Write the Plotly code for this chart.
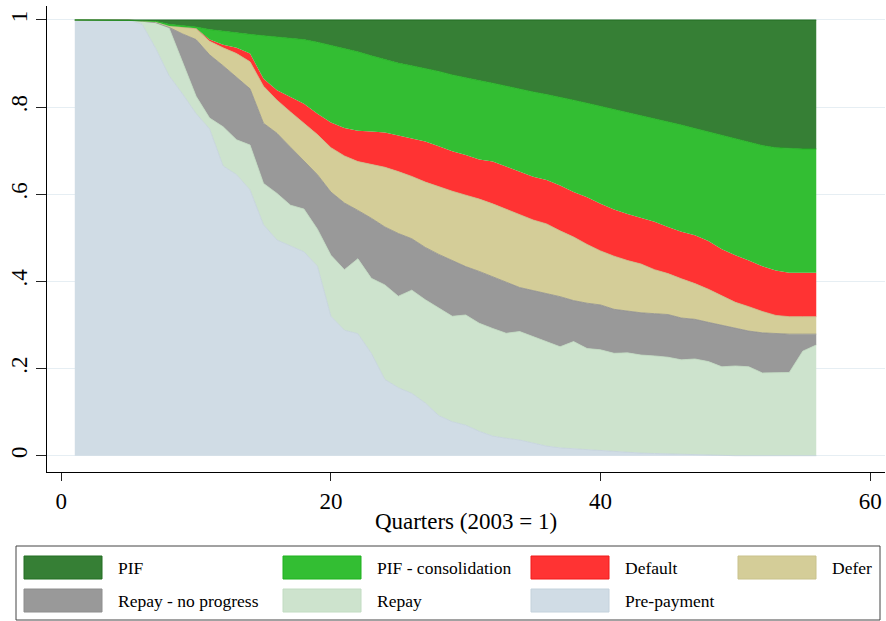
import plotly.graph_objects as go

# ---------------- data (cumulative shares) ----------------
quarters = list(range(1, 57))

prepay_top = [1.0, 1.0, 1.0, 1.0, 1.0, 0.99, 0.935, 0.872, 0.83, 0.785,
              0.75, 0.665, 0.645, 0.61, 0.53, 0.495, 0.482, 0.468, 0.435, 0.32,
              0.288, 0.28, 0.235, 0.175, 0.156, 0.143, 0.121, 0.092, 0.078, 0.07,
              0.056, 0.045, 0.04, 0.036, 0.029, 0.022, 0.018, 0.016, 0.013, 0.011,
              0.009, 0.008, 0.006, 0.005, 0.004, 0.003, 0.002, 0.001, 0.0, 0.0,
              0.0, 0.0, 0.0, 0.0, 0.0, 0.0]

repay_top = [1.0, 1.0, 1.0, 1.0, 1.0, 0.997, 0.994, 0.981, 0.904, 0.825,
             0.775, 0.755, 0.725, 0.713, 0.625, 0.602, 0.575, 0.566, 0.52, 0.46,
             0.427, 0.452, 0.407, 0.392, 0.366, 0.38, 0.358, 0.34, 0.32, 0.323,
             0.304, 0.292, 0.281, 0.285, 0.273, 0.262, 0.25, 0.262, 0.246, 0.243,
             0.235, 0.236, 0.231, 0.229, 0.226, 0.22, 0.222, 0.216, 0.204, 0.206,
             0.204, 0.19, 0.19, 0.191, 0.24, 0.254]

noprog_top = [1.0, 1.0, 1.0, 1.0, 1.0, 0.997, 0.994, 0.983, 0.968, 0.955,
              0.92, 0.895, 0.869, 0.842, 0.763, 0.74, 0.708, 0.677, 0.645, 0.605,
              0.58, 0.563, 0.545, 0.525, 0.51, 0.498, 0.478, 0.462, 0.448, 0.434,
              0.423, 0.411, 0.399, 0.386, 0.379, 0.372, 0.365, 0.356, 0.35, 0.346,
              0.336, 0.332, 0.328, 0.326, 0.324, 0.316, 0.313, 0.306, 0.299, 0.292,
              0.286, 0.282, 0.28, 0.279, 0.279, 0.279]

defer_top = [1.0, 1.0, 1.0, 1.0, 1.0, 0.998, 0.996, 0.986, 0.983, 0.980,
             0.951, 0.936, 0.923, 0.904, 0.848, 0.816, 0.789, 0.763, 0.737, 0.707,
             0.688, 0.675, 0.668, 0.662, 0.652, 0.641, 0.628, 0.617, 0.607, 0.598,
             0.589, 0.578, 0.566, 0.554, 0.541, 0.532, 0.516, 0.502, 0.485, 0.47,
             0.458, 0.448, 0.44, 0.427, 0.418, 0.406, 0.395, 0.382, 0.367, 0.352,
             0.342, 0.331, 0.322, 0.319, 0.319, 0.319]

default_top = [1.0, 1.0, 1.0, 1.0, 1.0, 0.998, 0.996, 0.986, 0.983, 0.981,
               0.955, 0.943, 0.936, 0.923, 0.865, 0.839, 0.823, 0.808, 0.785, 0.765,
               0.752, 0.746, 0.744, 0.742, 0.735, 0.728, 0.721, 0.71, 0.699, 0.69,
               0.68, 0.675, 0.663, 0.652, 0.64, 0.633, 0.62, 0.605, 0.593, 0.578,
               0.565, 0.555, 0.546, 0.537, 0.525, 0.514, 0.506, 0.493, 0.474, 0.46,
               0.448, 0.435, 0.425, 0.42, 0.42, 0.42]

pifcons_top = [1.0, 1.0, 1.0, 0.999, 0.999, 0.998, 0.997, 0.99, 0.987, 0.984,
               0.978, 0.974, 0.97, 0.967, 0.964, 0.961, 0.958, 0.955, 0.949, 0.942,
               0.934, 0.927, 0.918, 0.91, 0.901, 0.895, 0.889, 0.882, 0.874, 0.867,
               0.861, 0.855, 0.848, 0.841, 0.835, 0.829, 0.823, 0.816, 0.809, 0.802,
               0.795, 0.787, 0.781, 0.774, 0.767, 0.759, 0.751, 0.743, 0.735, 0.727,
               0.719, 0.712, 0.707, 0.705, 0.704, 0.704]

pif_top = [1.0, 1.0, 1.0, 1.0, 1.0, 1.0, 1.0, 1.0, 1.0, 1.0,
           1.0, 1.0, 1.0, 1.0, 1.0, 1.0, 1.0, 1.0, 1.0, 1.0,
           1.0, 1.0, 1.0, 1.0, 1.0, 1.0, 1.0, 1.0, 1.0, 1.0,
           1.0, 1.0, 1.0, 1.0, 1.0, 1.0, 1.0, 1.0, 1.0, 1.0,
           1.0, 1.0, 1.0, 1.0, 1.0, 1.0, 1.0, 1.0, 1.0, 1.0,
           1.0, 1.0, 1.0, 1.0, 1.0, 1.0]

# bottom -> top
series_names = ["Pre-payment", "Repay", "Repay - no progress", "Defer",
                "Default", "PIF - consolidation", "PIF"]
series_tops = [prepay_top, repay_top, noprog_top, defer_top,
               default_top, pifcons_top, pif_top]
fill_colors = ["#d0dce5", "#cde3cd", "#999999", "#d4cd98",
               "#ff3333", "#33be33", "#367f35"]
line_colors = ["#c4d2dc", "#c2dcc2", "#8e8e8e", "#c9c28c",
               "#f01a1a", "#1fb21f", "#226f22"]
line_widths = [0.8, 0.8, 0.8, 0.8, 0, 0.8, 1.2]

y_ticks = [0, 0.2, 0.4, 0.6, 0.8, 1]
y_ticktext = ["0", ".2", ".4", ".6", ".8", "1"]
x_ticks = [0, 20, 40, 60]

legend_rows = [["PIF", "PIF - consolidation", "Default", "Defer"],
               ["Repay - no progress", "Repay", "Pre-payment"]]

FONT = "Liberation Serif, Times New Roman, serif"

fig = go.Figure()
for i, (name, ys) in enumerate(zip(series_names, series_tops)):
    fig.add_trace(go.Scatter(
        x=quarters, y=ys, name=name, mode="lines",
        line=dict(color=line_colors[i], width=line_widths[i]),
        fill="tozeroy" if i == 0 else "tonexty",
        fillcolor=fill_colors[i],
        showlegend=False,
        hoverinfo="x+y+name",
    ))

# ---------------- layout geometry ----------------
W, H = 886, 621
ML, MR, MT, MB = 47, 1, 6, 149
PW, PH = W - ML - MR, H - MT - MB


def px_x(px):
    return (px - ML) / PW


def px_y(py):
    return (MT + PH - py) / PH


fig.update_layout(
    width=W, height=H,
    margin=dict(l=ML, r=MR, t=MT, b=MB, pad=0, autoexpand=False),
    paper_bgcolor="white", plot_bgcolor="white",
    font=dict(family=FONT, color="black"),
    showlegend=False,
    xaxis=dict(
        range=[-1.061, 61.10], tickvals=x_ticks, automargin=False,
        ticks="outside", ticklen=8, tickwidth=1, tickcolor="#222",
        showline=True, linecolor="black", linewidth=1,
        showgrid=False, zeroline=False,
        tickfont=dict(size=23, family=FONT, color="black"),
        title=dict(text="Quarters (2003 = 1)", standoff=0,
                   font=dict(size=23, family=FONT, color="black")),
    ),
    yaxis=dict(
        range=[-0.0374, 1.0321], tickvals=y_ticks, ticktext=y_ticktext,
        tickangle=-90, automargin=False,
        ticks="outside", ticklen=10, tickwidth=1, tickcolor="#222",
        showline=True, linecolor="black", linewidth=1,
        showgrid=True, gridcolor="#e6eef3", gridwidth=1.2,
        zeroline=False,
        tickfont=dict(size=23, family=FONT, color="black"),
    ),
)

# ---------------- legend drawn as a box of swatches + text ----------------
shapes = []
annotations = []
shapes.append(dict(type="rect", xref="paper", yref="paper",
                   x0=px_x(16), x1=px_x(880), y0=px_y(546), y1=px_y(620),
                   line=dict(color="#444", width=1), fillcolor="white"))
col_left = [24, 283, 531, 738]
row_top = [556, 589]
sw_w, sw_h = 78, 23
for r, row in enumerate(legend_rows):
    for c, name in enumerate(row):
        k = series_names.index(name)
        x0 = col_left[c]
        y0 = row_top[r]
        shapes.append(dict(type="rect", xref="paper", yref="paper",
                           x0=px_x(x0), x1=px_x(x0 + sw_w),
                           y0=px_y(y0 + sw_h), y1=px_y(y0),
                           line=dict(color=line_colors[k], width=1),
                           fillcolor=fill_colors[k]))
        annotations.append(dict(xref="paper", yref="paper",
                                x=px_x(x0 + 92), y=px_y(y0 + sw_h / 2),
                                xanchor="left", yanchor="middle",
                                text=name, showarrow=False,
                                font=dict(size=17.5, family=FONT, color="black")))

fig.update_layout(shapes=shapes, annotations=annotations)

fig.write_html(
    "out.html",
    config={"displayModeBar": False},
    post_script="document.body.style.margin='0';document.body.style.overflow='hidden';",
)
